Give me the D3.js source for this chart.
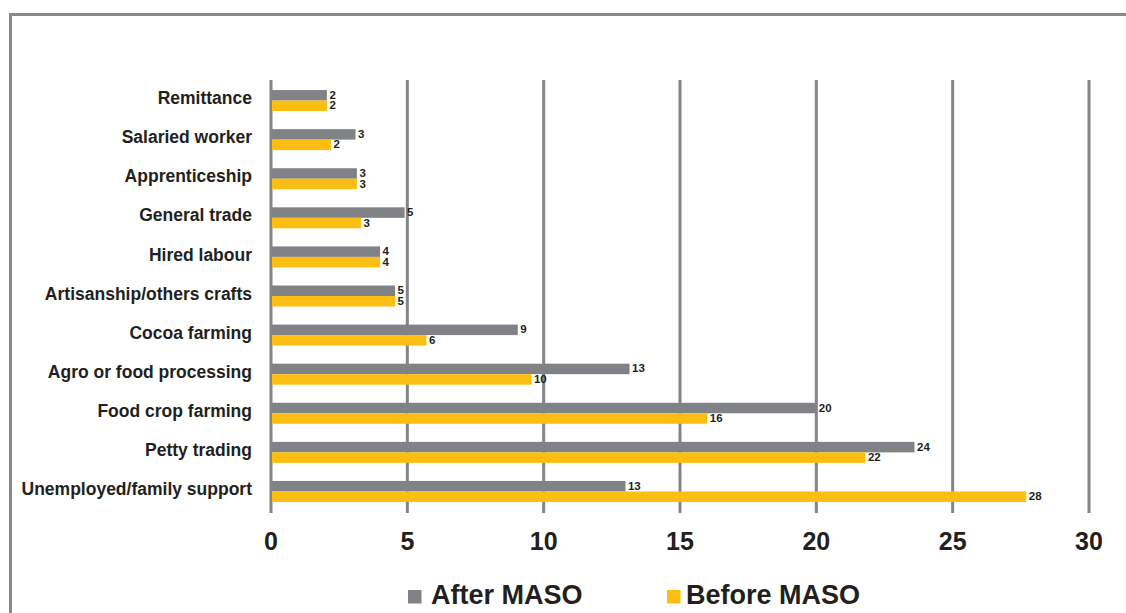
<!DOCTYPE html>
<html>
<head>
<meta charset="utf-8">
<script src="https://cdn.jsdelivr.net/npm/d3@7"></script>
<style>
  html, body { margin: 0; padding: 0; background: #fff; }
  svg { display: block; font-family: "Liberation Sans", Arial, Helvetica, sans-serif; }
</style>
</head>
<body>
<svg id="chart" width="1126" height="613"></svg>
<script>
// Livelihood sources (%), top to bottom
const categories = [
  "Remittance",
  "Salaried worker",
  "Apprenticeship",
  "General trade",
  "Hired labour",
  "Artisanship/others crafts",
  "Cocoa farming",
  "Agro or food processing",
  "Food crop farming",
  "Petty trading",
  "Unemployed/family support"
];
const afterMaso  = [2.05, 3.1, 3.15, 4.9, 4.0, 4.55, 9.05, 13.15, 20.0, 23.6, 13.0];
const beforeMaso = [2.05, 2.2, 3.15, 3.3, 4.0, 4.55, 5.7, 9.55, 16.0, 21.8, 27.7];
const seriesNames = ["After MASO", "Before MASO"];
const xTicks = [0, 5, 10, 15, 20, 25, 30];

const colors = { "After MASO": "#818285", "Before MASO": "#FDBE13" };
const textColor = "#231F20";
const gridColor = "#858585";

const svg = d3.select("#chart");

// outer frame (top and left edges visible)
svg.append("path")
  .attr("d", "M10.5,613 V14.5 H1126")
  .attr("fill", "none")
  .attr("stroke", "#8a8a8a")
  .attr("stroke-width", 3);

const x = d3.scaleLinear().domain([0, 30]).range([271, 1089]);
const y = d3.scaleBand().domain(categories).range([81, 511]);
const barH = 10.5;

// vertical gridlines (including the zero axis)
svg.append("g").selectAll("line")
  .data(xTicks)
  .join("line")
  .attr("x1", d => x(d)).attr("x2", d => x(d))
  .attr("y1", 80).attr("y2", 513)
  .attr("stroke", gridColor)
  .attr("stroke-width", 3);

// x tick labels
svg.append("g").selectAll("text")
  .data(xTicks)
  .join("text")
  .attr("x", d => x(d))
  .attr("y", 550)
  .attr("text-anchor", "middle")
  .attr("font-size", 25)
  .attr("font-weight", "bold")
  .attr("fill", textColor)
  .text(d => d);

// category labels
svg.append("g").selectAll("text")
  .data(categories)
  .join("text")
  .attr("x", 252)
  .attr("y", d => y(d) + y.bandwidth() / 2 - 1)
  .attr("dominant-baseline", "middle")
  .attr("text-anchor", "end")
  .attr("font-size", 17.5)
  .attr("font-weight", "bold")
  .attr("fill", textColor)
  .text(d => d);

const rows = categories.map((c, i) => ({ cat: c, vals: [afterMaso[i], beforeMaso[i]] }));
const fmt = d3.format(".0f");

const groups = svg.append("g").selectAll("g")
  .data(rows)
  .join("g")
  .attr("transform", d => `translate(0,${y(d.cat) + y.bandwidth() / 2 - barH})`);

groups.selectAll("rect")
  .data(d => d.vals.map((v, k) => ({ v, k })))
  .join("rect")
  .attr("x", x(0) + 1)
  .attr("y", d => d.k * barH)
  .attr("width", d => x(d.v) - x(0) - 1)
  .attr("height", barH)
  .attr("fill", d => colors[seriesNames[d.k]]);

groups.selectAll("text")
  .data(d => d.vals.map((v, k) => ({ v, k })))
  .join("text")
  .attr("x", d => x(d.v) + 2.5)
  .attr("y", d => d.k * barH + barH / 2 + 0.5)
  .attr("dominant-baseline", "middle")
  .attr("font-size", 11.5)
  .attr("font-weight", "bold")
  .attr("fill", textColor)
  .text(d => fmt(d.v));

// legend
const legendX = [408, 667];
const legend = svg.append("g").selectAll("g")
  .data(seriesNames)
  .join("g")
  .attr("transform", (d, i) => `translate(${legendX[i]},590)`);
legend.append("rect")
  .attr("width", 13.5).attr("height", 13.5)
  .attr("fill", d => colors[d]);
legend.append("text")
  .attr("x", (d, i) => i === 0 ? 23 : 19)
  .attr("y", 13.5)
  .attr("font-size", 27)
  .attr("font-weight", "bold")
  .attr("fill", textColor)
  .text(d => d);
</script>
</body>
</html>
